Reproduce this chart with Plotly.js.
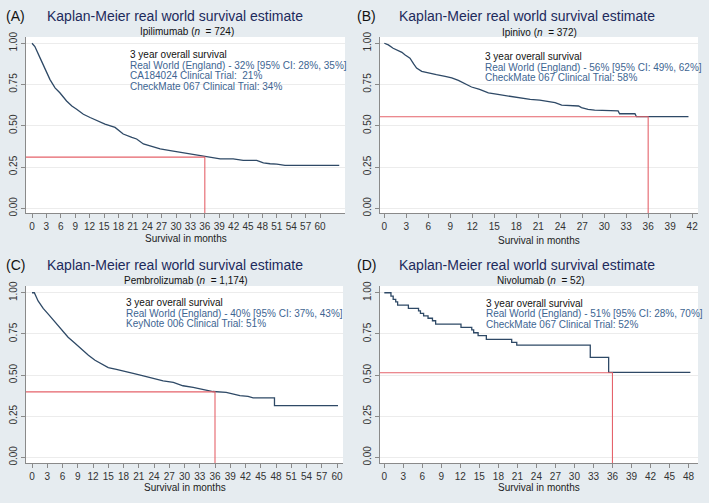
<!DOCTYPE html>
<html>
<head>
<meta charset="utf-8">
<script src="https://cdn.plot.ly/plotly-3.0.1.min.js"></script>
<style>html,body{margin:0;padding:0;background:#e6ecf0;}#chart{width:709px;height:503px;}</style>
</head>
<body>
<div id="chart"></div>
<script>
// ---- Data ----
const panelLabels = ["(A)", "(B)", "(C)", "(D)"];
const drugNames = ["Ipilimumab", "Ipinivo", "Pembrolizumab", "Nivolumab"];
const sampleSizes = ["724", "372", "1,174", "52"];
const legendLines = [
  ["Real World (England) - 32% [95% CI: 28%, 35%]", "CA184024 Clinical Trial:  21%", "CheckMate 067 Clinical Trial: 34%"],
  ["Real World (England) - 56% [95% CI: 49%, 62%]", "CheckMate 067 Clinical Trial: 58%"],
  ["Real World (England) - 40% [95% CI: 37%, 43%]", "KeyNote 006 Clinical Trial: 51%"],
  ["Real World (England) - 51% [95% CI: 28%, 70%]", "CheckMate 067 Clinical Trial: 52%"]
];
const landmarkMonth = 36;
const threeYearSurv = [0.31, 0.555, 0.398, 0.514];
const xTickMax = [60, 42, 60, 48];

const ipiMonths = [0, 0.6, 1.7, 2.7, 3.75, 4.8, 5.8, 7.2, 8.3, 9.3, 10.7, 12.1, 13.5, 15.2, 17.3, 19, 20.8, 21.8, 23.2, 25.3, 26.7, 28.8, 30.8, 32.9, 35, 36.4, 39.2, 41.9, 44, 46.8, 48.2, 49.6, 51, 52.7, 64];
const ipiSurv =   [1.00, 0.98, 0.91, 0.85, 0.78, 0.73, 0.70, 0.65, 0.62, 0.60, 0.57, 0.55, 0.53, 0.51, 0.49, 0.45, 0.43, 0.42, 0.39, 0.37, 0.36, 0.35, 0.34, 0.33, 0.32, 0.315, 0.30, 0.30, 0.29, 0.29, 0.275, 0.27, 0.268, 0.26, 0.26];

const ipinivoMonths = [0, 0.55, 1.2, 1.7, 2.4, 2.8, 3.5, 4.0, 4.4, 5.1, 6, 7.1, 8.3, 9.2, 10.1, 11, 11.9, 13, 14.2, 15.5, 16.9, 18.3, 19.9, 21.2, 22.6, 23.3, 24.2, 26.5, 26.9, 27.8, 28.7, 30.5, 31.9, 32.1, 34.2, 34.4, 41.5];
const ipinivoSurv =   [1.00, 0.99, 0.97, 0.96, 0.945, 0.93, 0.91, 0.875, 0.85, 0.83, 0.82, 0.81, 0.80, 0.79, 0.775, 0.755, 0.735, 0.72, 0.70, 0.69, 0.68, 0.67, 0.66, 0.655, 0.645, 0.64, 0.625, 0.62, 0.61, 0.60, 0.595, 0.59, 0.59, 0.573, 0.573, 0.555, 0.555];

const pembroMonths = [0, 0.46, 1.2, 2.2, 3.2, 4.5, 5.8, 7.1, 8.4, 9.8, 11.1, 12.4, 13.7, 15, 16.6, 18.3, 19.9, 21.9, 23.8, 25.8, 27.8, 29.7, 31.7, 33.7, 35.6, 38.2, 39.6, 40.9, 42.5, 43.5, 47.7, 47.7, 60.2];
const pembroSurv =   [1.00, 1.00, 0.95, 0.905, 0.87, 0.825, 0.775, 0.73, 0.695, 0.655, 0.62, 0.59, 0.565, 0.545, 0.535, 0.52, 0.51, 0.495, 0.48, 0.465, 0.455, 0.435, 0.425, 0.41, 0.40, 0.395, 0.385, 0.375, 0.37, 0.362, 0.362, 0.314, 0.314];

const nivoMonths = [0, 1.05, 1.4, 1.8, 2.1, 3.8, 5.4, 5.7, 6.2, 6.9, 7.6, 8.1, 12.1, 13.8, 14.1, 14.8, 16.1, 20.1, 20.9, 32.5, 35.4, 48.3];
const nivoSurv =   [1.00, 0.98, 0.96, 0.945, 0.925, 0.905, 0.89, 0.875, 0.86, 0.845, 0.83, 0.81, 0.79, 0.775, 0.757, 0.74, 0.717, 0.698, 0.682, 0.607, 0.516, 0.516];

// ---- Layout geometry (pixels in a 709x503 figure) ----
const W = 709, H = 503;
const px = v => v / W;
const py = v => 1 - v / H;
const panels = [
  {l: 26, r: 345, t: 37, b: 213, xr: [-1.25, 65.2], yr: [-0.0285, 1.038], shape: "linear", x: ipiMonths, y: ipiSurv,
   titleY: 16, labX: 4, titleX: 45, subX: 187, subY: 31.5, txtX: 128, txtY: 54.5, axY: 239},
  {l: 380, r: 698, t: 37, b: 213, xr: [-0.59, 42.8], yr: [-0.0285, 1.038], shape: "linear", x: ipinivoMonths, y: ipinivoSurv,
   titleY: 16, labX: 355, titleX: 397, subX: 539, subY: 32, txtX: 482.5, txtY: 56.5, axY: 240},
  {l: 26, r: 343, t: 286, b: 463.3, xr: [-1.18, 61.18], yr: [-0.036, 1.041], shape: "linear", x: pembroMonths, y: pembroSurv,
   titleY: 265, labX: 4, titleX: 45, subX: 186, subY: 280, txtX: 123.5, txtY: 302.5, axY: 487},
  {l: 380, r: 698, t: 286, b: 463.3, xr: [-0.68, 49.5], yr: [-0.036, 1.041], shape: "hv", x: nivoMonths, y: nivoSurv,
   titleY: 265, labX: 355, titleX: 397, subX: 541, subY: 280, txtX: 484, txtY: 303, axY: 487.5}
];

const FONT = "Liberation Sans, Arial, sans-serif";
const curveColor = "#2e4966";
const redColor = "#e5636b";
const blueText = "#3d6592";
const navy = "#1d2a5c";

const data = [];
const annotations = [];
const layout = {
  width: W, height: H,
  margin: {l: 0, r: 0, t: 0, b: 0},
  paper_bgcolor: "#e6ecf0",
  plot_bgcolor: "#ffffff",
  showlegend: false,
  font: {family: FONT, size: 10, color: "#222"},
  annotations: annotations
};

panels.forEach((p, i) => {
  const n = i + 1;
  const xa = "xaxis" + (n === 1 ? "" : n), ya = "yaxis" + (n === 1 ? "" : n);
  const xref = "x" + (n === 1 ? "" : n), yref = "y" + (n === 1 ? "" : n);
  const tickvals = [];
  for (let t = 0; t <= xTickMax[i]; t += 3) tickvals.push(t);
  layout[xa] = {
    domain: [px(p.l), px(p.r)], anchor: yref, range: p.xr,
    tickvals: tickvals, ticks: "outside", ticklen: 4, tickcolor: "#8a8a8a", tickwidth: 1,
    showline: true, linecolor: "#8a8a8a", linewidth: 1, showgrid: false, zeroline: false,
    tickfont: {family: FONT, size: 10, color: "#333"}, fixedrange: true
  };
  layout[ya] = {
    domain: [py(p.b), py(p.t)], anchor: xref, range: p.yr,
    tickvals: [0, 0.25, 0.5, 0.75, 1], tickformat: ".2f", tickangle: -90,
    ticks: "outside", ticklen: 4, tickcolor: "#8a8a8a", tickwidth: 1,
    showline: true, linecolor: "#8a8a8a", linewidth: 1,
    showgrid: true, gridcolor: "#ececec", gridwidth: 1, zeroline: false,
    tickfont: {family: FONT, size: 10, color: "#333"}, fixedrange: true
  };
  // KM curve
  data.push({
    type: "scatter", mode: "lines", xaxis: xref, yaxis: yref,
    x: p.x, y: p.y, line: {color: curveColor, width: 1.3, shape: p.shape}
  });
  // 3-year reference lines
  data.push({
    type: "scatter", mode: "lines", xaxis: xref, yaxis: yref,
    x: [p.xr[0], landmarkMonth, landmarkMonth], y: [threeYearSurv[i], threeYearSurv[i], p.yr[0]],
    line: {color: redColor, width: 1.1}, hoverinfo: "skip"
  });
  // titles
  annotations.push({xref: "paper", yref: "paper", x: px(p.labX), y: py(p.titleY), xanchor: "left", yanchor: "middle",
    text: panelLabels[i], showarrow: false, font: {family: FONT, size: 14, color: "#111"}});
  annotations.push({xref: "paper", yref: "paper", x: px(p.titleX), y: py(p.titleY), xanchor: "left", yanchor: "middle",
    text: "Kaplan-Meier real world survival estimate", showarrow: false, font: {family: FONT, size: 14, color: navy}});
  annotations.push({xref: "paper", yref: "paper", x: px(p.subX), y: py(p.subY), xanchor: "center", yanchor: "middle",
    text: drugNames[i] + " (<i>n</i>\u00a0\u00a0= " + sampleSizes[i] + ")", showarrow: false, font: {family: FONT, size: 10, color: "#111"}});
  annotations.push({xref: "paper", yref: "paper", x: px((p.l + p.r) / 2), y: py(p.axY), xanchor: "center", yanchor: "middle",
    text: "Survival in months", showarrow: false, font: {family: FONT, size: 10, color: "#222"}});
  // survival text block
  annotations.push({xref: "paper", yref: "paper", x: px(p.txtX), y: py(p.txtY), xanchor: "left", yanchor: "middle",
    text: "3 year overall survival", showarrow: false, font: {family: FONT, size: 10, color: "#111"}});
  legendLines[i].forEach((s, k) => {
    annotations.push({xref: "paper", yref: "paper", x: px(p.txtX), y: py(p.txtY + 10.6 * (k + 1)), xanchor: "left", yanchor: "middle",
      text: s, showarrow: false, font: {family: FONT, size: 10, color: blueText}});
  });
});

Plotly.newPlot("chart", data, layout, {displayModeBar: false, staticPlot: true});
</script>
</body>
</html>
